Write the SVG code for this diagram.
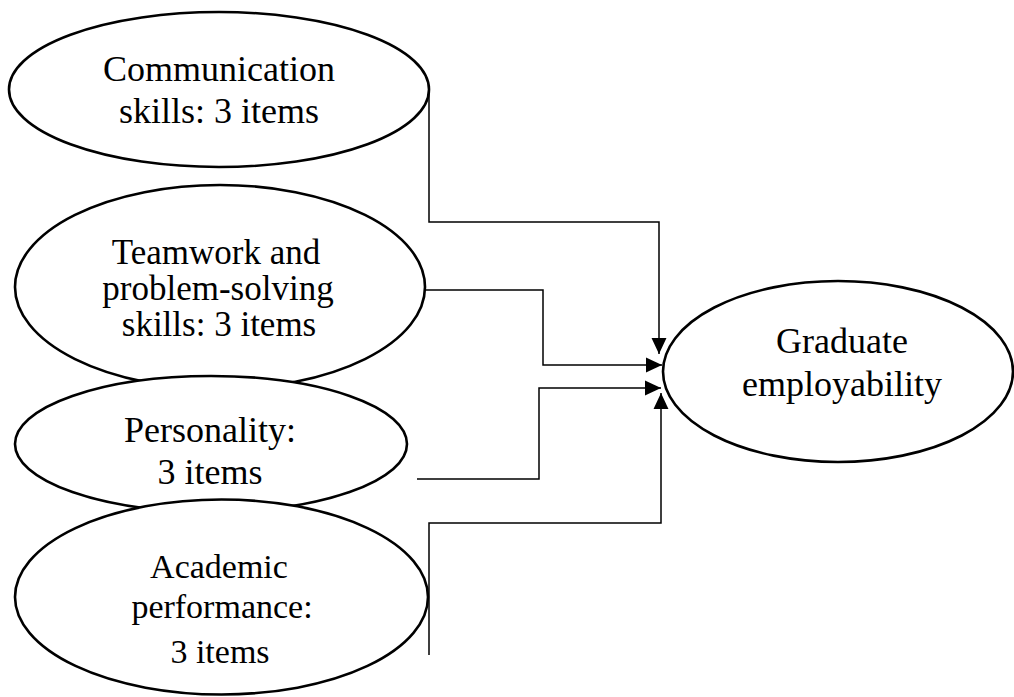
<svg xmlns="http://www.w3.org/2000/svg" width="1014" height="697" viewBox="0 0 1014 697">
<style>
.node ellipse{fill:#fff;stroke:#000;stroke-width:2.6}
.node text{font-family:"Liberation Serif","Times New Roman",serif;fill:#000;text-anchor:middle}
.f36{font-size:36px}
.f35{font-size:35px}
.f34{font-size:34px}
.conn path{fill:none;stroke:#000;stroke-width:1.5}
</style>
<defs>
<marker id="arr" markerUnits="userSpaceOnUse" markerWidth="16" markerHeight="16" viewBox="0 0 15 14" refX="15" refY="7" orient="auto">
<path d="M0,0 L15,7 L0,14 Z" fill="#000"/>
</marker>
</defs>
<rect width="1014" height="697" fill="#fff"/>
<g id="n-communication" class="node">
<ellipse cx="219" cy="89.5" rx="210" ry="77.5"/>
<text class="f36" x="219" y="81">Communication</text>
<text class="f36" x="219" y="123">skills: 3 items</text>
</g>
<g id="n-teamwork" class="node">
<ellipse cx="220" cy="287" rx="205" ry="102"/>
<text class="f35" x="216" y="264">Teamwork and</text>
<text class="f35" x="218" y="300">problem-solving</text>
<text class="f35" x="219" y="336">skills: 3 items</text>
</g>
<g id="n-personality" class="node">
<ellipse cx="211" cy="444" rx="196" ry="68"/>
<text class="f36" x="210" y="442">Personality:</text>
<text class="f36" x="210" y="484">3 items</text>
</g>
<g id="n-academic" class="node">
<ellipse cx="221.5" cy="597" rx="206.5" ry="97.5"/>
<text class="f34" x="219" y="578">Academic</text>
<text class="f34" x="222" y="618">performance:</text>
<text class="f34" x="220" y="663">3 items</text>
</g>
<g id="n-graduate" class="node">
<ellipse cx="838" cy="371.5" rx="175" ry="90.5"/>
<text class="f36" x="842" y="353">Graduate</text>
<text class="f36" x="842" y="396">employability</text>
</g>
<g id="connectors" class="conn">
<path d="M429,90 V222 H659 V354" marker-end="url(#arr)"/>
<path d="M425,290 H543 V365 H662" marker-end="url(#arr)"/>
<path d="M417,479 H539 V388 H661" marker-end="url(#arr)"/>
<path d="M429,655 V523 H661 V393" marker-end="url(#arr)"/>
</g>
</svg>
